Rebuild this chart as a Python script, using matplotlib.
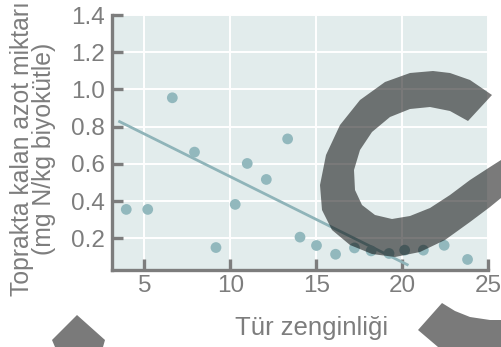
import matplotlib
matplotlib.use("Agg")
import matplotlib.pyplot as plt
from matplotlib.patches import Polygon

plt.rcParams['font.family'] = ['Liberation Sans', 'DejaVu Sans']

# species richness vs nitrogen left in soil
richness = [3.95, 5.2, 6.63, 7.92, 9.17, 10.29, 10.99, 12.1, 13.34, 14.06,
            15.02, 16.13, 17.23, 18.2, 19.24, 20.15, 21.24, 22.45, 23.81]
nitrogen = [0.355, 0.355, 0.955, 0.663, 0.15, 0.382, 0.602, 0.516, 0.734, 0.206,
            0.161, 0.114, 0.148, 0.132, 0.118, 0.136, 0.136, 0.162, 0.086]
fit_x = [3.56, 20.3]
fit_y = [0.827, 0.058]

xticks = [5, 10, 15, 20, 25]
yticks = [0.2, 0.4, 0.6, 0.8, 1.0, 1.2, 1.4]

W, H = 501, 347
grey = '#7d7d7d'
fig = plt.figure(figsize=(W / 100, H / 100), dpi=100)
ax = fig.add_axes([112 / W, 1 - 269.5 / H, 376 / W, 254.5 / H])
ax.set_facecolor('#e2ecec')

ax.plot(fit_x, fit_y, color='#8fb4b9', lw=2, zorder=3)
ax.scatter(richness, nitrogen, s=60, color='#92b8bd', edgecolors='none', zorder=4)

ax.set_xlim(3.12, 25)
ax.set_ylim(0.032, 1.4)
ax.set_xticks(xticks)
ax.set_yticks(yticks)
ax.set_yticklabels(['%.1f' % v for v in yticks])
ax.grid(True, color='white', lw=1.4)
ax.set_axisbelow(True)
for s in ['top', 'right']:
    ax.spines[s].set_visible(False)
for s in ['left', 'bottom']:
    ax.spines[s].set_color(grey)
    ax.spines[s].set_linewidth(2.4)
ax.tick_params(direction='in', length=8, width=2.4, color=grey,
               labelcolor=grey, labelsize=17.5)
ax.tick_params(axis='x', pad=4)
ax.tick_params(axis='y', pad=5)

fig.text(312 / W, 1 - 335 / H, 'Tür zenginliği', ha='center', va='baseline',
         fontsize=18.5, color=grey)
fig.text(33 / W, 1 - 149 / H, 'Toprakta kalan azot miktarı\n(mg N/kg biyokütle)',
         rotation=90, ha='center', va='center', fontsize=17.8, color=grey,
         linespacing=0.88)


# grey shapes lying over the picture (pixel outlines, origin top-left)
def px(pts):
    return [(x / W, 1 - y / H) for x, y in pts]


c_shape = [(492, 95), (470, 80), (450, 73), (433, 71), (410, 73), (385, 82),
           (360, 100), (340, 125), (326, 155), (320, 185), (322, 210), (332, 230),
           (350, 245), (372, 254), (395, 257), (420, 252), (445, 240), (470, 222),
           (490, 207), (501, 198), (501, 160), (490, 167), (470, 180), (450, 195),
           (430, 208), (410, 216), (392, 219), (375, 215), (362, 205), (355, 190),
           (354, 170), (360, 150), (372, 132), (390, 117), (410, 109), (430, 107),
           (450, 111), (468, 121)]
low_right = [(442, 303), (418, 330), (438, 347), (501, 347), (501, 320),
             (490, 320), (470, 317), (455, 311)]
low_left = [(77, 315), (105, 340), (103, 347), (55, 347), (52, 340)]
for shape in [c_shape, low_right, low_left]:
    fig.add_artist(Polygon(px(shape), closed=True, transform=fig.transFigure,
                           facecolor='black', edgecolor='none', alpha=0.52,
                           zorder=10))

fig.savefig('out.png', dpi=100)
